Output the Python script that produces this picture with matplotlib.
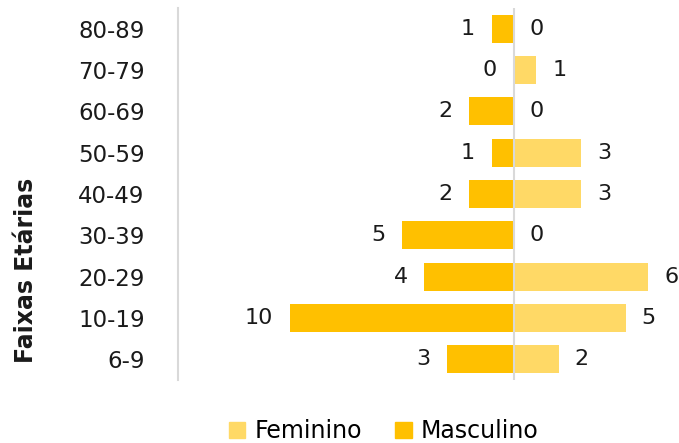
import matplotlib
matplotlib.use("Agg")
import matplotlib.pyplot as plt
from matplotlib.patches import Patch

plt.rcParams['font.family'] = ['DejaVu Sans']

categories = ["6-9", "10-19", "20-29", "30-39", "40-49", "50-59", "60-69", "70-79", "80-89"]
masculino = [3, 10, 4, 5, 2, 1, 2, 0, 1]
feminino = [2, 5, 6, 0, 3, 3, 0, 1, 0]

c_masc = "#FFC000"
c_fem = "#FFD966"
txt = "#1a1a1a"

fig = plt.figure(figsize=(6.79, 4.43), dpi=100)
ax = fig.add_axes([178/679, 63/443, 501/679, 372/443])

y = list(range(len(categories)))
ax.barh(y, [-m for m in masculino], height=0.68, color=c_masc, zorder=2)
ax.barh(y, feminino, height=0.68, color=c_fem, zorder=2)
ax.axvline(0, color="#D9D9D9", lw=1.5, zorder=3)

for yi, m, f in zip(y, masculino, feminino):
    ax.text(-m - 0.75, yi, str(m), ha="right", va="center", fontsize=16, color=txt)
    ax.text(f + 0.7, yi, str(f), ha="left", va="center", fontsize=16, color=txt)

ax.set_xlim(-15, 501/22.4 - 15)
ax.set_ylim(-0.5, len(categories) - 0.5)
ax.set_yticks(y)
ax.set_yticklabels(categories, fontsize=16.5, color=txt)
ax.tick_params(axis="y", length=0, pad=24)
ax.set_xticks([])
for s in ["top", "right", "bottom"]:
    ax.spines[s].set_visible(False)
ax.spines["left"].set_color("#D9D9D9")
ax.spines["left"].set_linewidth(1.5)

fig.text(0.038, 0.39, "Faixas Etárias", rotation=90, ha="center", va="center",
         fontsize=17, fontweight="heavy", color=txt)

handles = [Patch(color=c_fem, label="Feminino"), Patch(color=c_masc, label="Masculino")]
fig.legend(handles=handles, loc="center", bbox_to_anchor=(0.565, 0.027), ncol=2,
           frameon=False, fontsize=17, handlelength=0.7, handleheight=0.7,
           handletextpad=0.4, columnspacing=1.4, borderpad=0.1)

fig.savefig("out.png", dpi=100)
